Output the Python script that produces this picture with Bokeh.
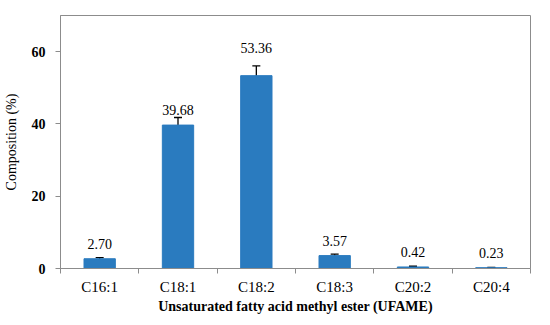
from bokeh.plotting import figure
from bokeh.models import ColumnDataSource, Whisker, FixedTicker, Range1d, LabelSet
from bokeh.embed import file_html
from bokeh.resources import INLINE

categories = ["C16:1", "C18:1", "C18:2", "C18:3", "C20:2", "C20:4"]
values = [2.70, 39.68, 53.36, 3.57, 0.42, 0.23]
errors = [0.3, 2.1, 2.7, 0.4, 0.2, 0.05]
labels = ["2.70", "39.68", "53.36", "3.57", "0.42", "0.23"]
label_offsets = [15, 15, 28, 15, 15, 15]  # pixel offsets above bar top (style)
y_ticks = [0, 20, 40, 60]

n = len(categories)
xs = [i + 0.5 for i in range(n)]
src = ColumnDataSource(dict(
    x=xs, top=values,
    upper=[v + e for v, e in zip(values, errors)],
    lower=[v - e for v, e in zip(values, errors)],
    lab=labels,
    lab_off=label_offsets,
))

FONT = "Liberation Serif"
p = figure(width=545, height=320, output_backend="svg", toolbar_location=None,
           x_range=Range1d(0, n), y_range=Range1d(0, 70),
           min_border_left=54, min_border_right=15, min_border_top=15, min_border_bottom=52)
p.background_fill_color = "white"
p.border_fill_color = "white"
p.outline_line_color = "#8c8c8c"
p.outline_line_width = 1
p.xgrid.visible = False
p.ygrid.visible = False

p.vbar(x="x", top="top", width=0.4, bottom=0, source=src, fill_color="#2a7bbf", line_color="#2a7bbf")

w = Whisker(source=src, base="x", upper="upper", lower="lower",
            line_color="black", line_width=1.3)
w.upper_head.size = 8
w.lower_head.size = 8
w.upper_head.line_color = "black"
w.lower_head.line_color = "black"
w.upper_head.line_width = 1.3
w.lower_head.line_width = 1.3
p.add_layout(w)

ls = LabelSet(x="x", y="top", text="lab", source=src, y_offset="lab_off",
              text_align="center", text_baseline="middle",
              text_font=FONT, text_font_size="14px", text_color="black")
p.add_layout(ls)

xa = p.xaxis[0]
xa.ticker = FixedTicker(ticks=xs, minor_ticks=list(range(n + 1)))
xa.major_label_overrides = {x: c for x, c in zip(xs, categories)}
xa.major_tick_out = 0
xa.major_tick_in = 0
xa.minor_tick_out = 5
xa.minor_tick_in = 0
xa.minor_tick_line_color = "#8c8c8c"
xa.axis_line_color = "#8c8c8c"
xa.major_label_text_font = FONT
xa.major_label_text_font_size = "15px"
xa.major_label_text_color = "black"
xa.major_label_standoff = 5
xa.axis_label = "Unsaturated fatty acid methyl ester (UFAME)"
xa.axis_label_text_font = FONT
xa.axis_label_text_font_size = "14px"
xa.axis_label_text_font_style = "bold"
xa.axis_label_text_color = "black"
xa.axis_label_standoff = 1

ya = p.yaxis[0]
ya.ticker = FixedTicker(ticks=y_ticks, minor_ticks=[])
ya.major_tick_out = 5
ya.major_tick_in = 0
ya.major_tick_line_color = "#8c8c8c"
ya.axis_line_color = "#8c8c8c"
ya.major_label_text_font = FONT
ya.major_label_text_font_size = "14px"
ya.major_label_text_font_style = "bold"
ya.major_label_text_color = "black"
ya.major_label_standoff = 10
ya.axis_label = "Composition (%)"
ya.axis_label_text_font = FONT
ya.axis_label_text_font_size = "14px"
ya.axis_label_text_font_style = "normal"
ya.axis_label_text_color = "black"
ya.axis_label_standoff = 10

open("out.html", "w").write(file_html(p, INLINE))
